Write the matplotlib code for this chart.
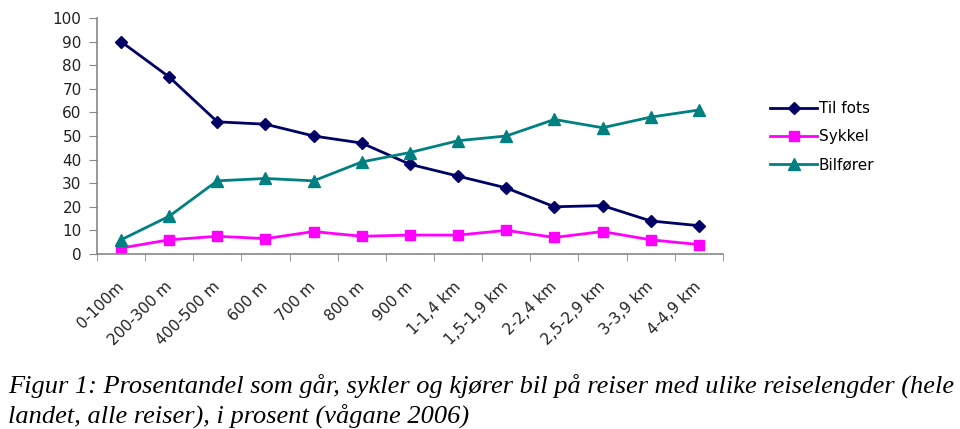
import numpy as np
import matplotlib.pyplot as plt
import matplotlib.transforms as mtransforms
from matplotlib.ticker import FixedLocator

kategorier = ["0-100m", "200-300 m", "400-500 m", "600 m", "700 m", "800 m", "900 m",
              "1-1,4 km", "1,5-1,9 km", "2-2,4 km", "2,5-2,9 km", "3-3,9 km", "4-4,9 km"]
til_fots = [90, 75, 56, 55, 50, 47, 38, 33, 28, 20, 20.5, 14, 12]
sykkel = [2.5, 6, 7.5, 6.5, 9.5, 7.5, 8, 8, 10, 7, 9.5, 6, 4]
bilforer = [6, 16, 31, 32, 31, 39, 43, 48, 50, 57, 53.5, 58, 61]

fig = plt.figure(figsize=(9.6, 4.29), dpi=100)
ax = fig.add_axes([0.101, 0.408, 0.652, 0.55])

x = np.arange(len(kategorier))
ax.plot(x, til_fots, color="#000066", lw=2, marker="D", ms=6, label="Til fots")
ax.plot(x, sykkel, color="#ff00ff", lw=2, marker="s", ms=7, label="Sykkel")
ax.plot(x, bilforer, color="#008080", lw=2, marker="^", ms=8, label="Bilfører")

ax.set_xlim(-0.5, len(kategorier) - 0.5)
ax.set_ylim(0, 100)
ax.set_yticks(range(0, 101, 10))
ax.set_xticks(x)
ax.set_xticklabels(kategorier, rotation=45, ha="right", va="center", rotation_mode="anchor",
                   fontsize=11, family="DejaVu Sans", color="#222222")
shift = mtransforms.ScaledTranslation(-0.19, 0, fig.dpi_scale_trans)
for t in ax.get_xticklabels():
    t.set_transform(t.get_transform() + shift)
ax.xaxis.set_minor_locator(FixedLocator(np.arange(-0.5, len(kategorier), 1)))
ax.tick_params(axis="x", which="major", length=0, pad=22)
ax.tick_params(axis="x", which="minor", length=5, color="#888888")
ax.tick_params(axis="y", length=6, color="#888888", labelsize=11, pad=5, labelcolor="#222222")
for t in ax.get_yticklabels():
    t.set_family("DejaVu Sans")
for s in ["top", "right"]:
    ax.spines[s].set_visible(False)
for s in ["left", "bottom"]:
    ax.spines[s].set_color("#888888")
    ax.spines[s].set_linewidth(1.2)

ax.legend(loc="center left", bbox_to_anchor=(0.802, 0.681), bbox_transform=fig.transFigure,
          frameon=False, borderaxespad=0, borderpad=0,
          prop={"family": "DejaVu Sans", "size": 11}, handlelength=3.1,
          handletextpad=0.1, labelspacing=0.85)

fig.text(0.008, 0.086, "Figur 1: Prosentandel som går, sykler og kjører bil på reiser med ulike reiselengder (hele",
         family="Liberation Serif", style="italic", fontsize=19, va="baseline")
fig.text(0.008, 0.014, "landet, alle reiser), i prosent (vågane 2006)",
         family="Liberation Serif", style="italic", fontsize=19, va="baseline")

fig.savefig("out.png", dpi=100)
